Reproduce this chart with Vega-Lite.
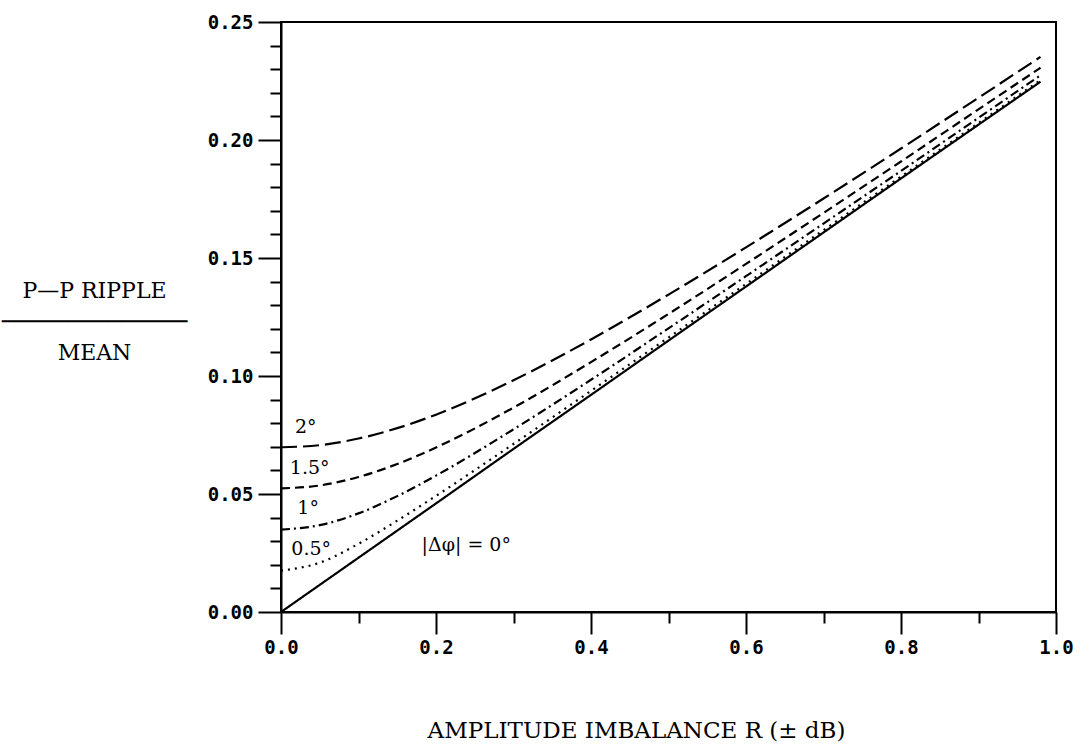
{
  "$schema": "https://vega.github.io/schema/vega-lite/v6.json",
  "width": 775,
  "height": 590,
  "autosize": {"type": "none"},
  "padding": {"left": 281, "top": 22, "right": 27, "bottom": 137},
  "background": "white",
  "config": {
    "view": {"stroke": "black", "strokeWidth": 2},
    "axis": {
      "domainColor": "black", "domainWidth": 2, "tickColor": "black", "tickWidth": 2,
      "labelFont": "DejaVu Sans Mono", "labelFontWeight": "bold", "labelFontSize": 19, "labelColor": "black",
      "grid": false, "titleFont": "DejaVu Serif", "titleFontWeight": "normal", "titleColor": "black"
    }
  },
  "datasets": {
    "curves": [
      {"R": 0, "v": 0, "phase": "0"}, {"R": 0.05, "v": 0.0115, "phase": "0"}, {"R": 0.1, "v": 0.0230, "phase": "0"}, {"R": 0.15, "v": 0.0345, "phase": "0"}, {"R": 0.2, "v": 0.0460, "phase": "0"}, {"R": 0.3, "v": 0.0691, "phase": "0"}, {"R": 0.4, "v": 0.0920, "phase": "0"}, {"R": 0.5, "v": 0.1150, "phase": "0"}, {"R": 0.6, "v": 0.1379, "phase": "0"}, {"R": 0.7, "v": 0.1608, "phase": "0"}, {"R": 0.8, "v": 0.1837, "phase": "0"}, {"R": 0.9, "v": 0.2065, "phase": "0"}, {"R": 0.98, "v": 0.2247, "phase": "0"},
      {"R": 0, "v": 0.0175, "phase": "0.5"}, {"R": 0.05, "v": 0.0209, "phase": "0.5"}, {"R": 0.1, "v": 0.0289, "phase": "0.5"}, {"R": 0.15, "v": 0.0387, "phase": "0.5"}, {"R": 0.2, "v": 0.0492, "phase": "0.5"}, {"R": 0.3, "v": 0.0712, "phase": "0.5"}, {"R": 0.4, "v": 0.0937, "phase": "0.5"}, {"R": 0.5, "v": 0.1163, "phase": "0.5"}, {"R": 0.6, "v": 0.1390, "phase": "0.5"}, {"R": 0.7, "v": 0.1618, "phase": "0.5"}, {"R": 0.8, "v": 0.1845, "phase": "0.5"}, {"R": 0.9, "v": 0.2072, "phase": "0.5"}, {"R": 0.98, "v": 0.2254, "phase": "0.5"},
      {"R": 0, "v": 0.0349, "phase": "1"}, {"R": 0.05, "v": 0.0368, "phase": "1"}, {"R": 0.1, "v": 0.0418, "phase": "1"}, {"R": 0.15, "v": 0.0491, "phase": "1"}, {"R": 0.2, "v": 0.0578, "phase": "1"}, {"R": 0.3, "v": 0.0774, "phase": "1"}, {"R": 0.4, "v": 0.0984, "phase": "1"}, {"R": 0.5, "v": 0.1202, "phase": "1"}, {"R": 0.6, "v": 0.1423, "phase": "1"}, {"R": 0.7, "v": 0.1646, "phase": "1"}, {"R": 0.8, "v": 0.1869, "phase": "1"}, {"R": 0.9, "v": 0.2094, "phase": "1"}, {"R": 0.98, "v": 0.2274, "phase": "1"},
      {"R": 0, "v": 0.0524, "phase": "1.5"}, {"R": 0.05, "v": 0.0536, "phase": "1.5"}, {"R": 0.1, "v": 0.0572, "phase": "1.5"}, {"R": 0.15, "v": 0.0627, "phase": "1.5"}, {"R": 0.2, "v": 0.0697, "phase": "1.5"}, {"R": 0.3, "v": 0.0866, "phase": "1.5"}, {"R": 0.4, "v": 0.1059, "phase": "1.5"}, {"R": 0.5, "v": 0.1263, "phase": "1.5"}, {"R": 0.6, "v": 0.1475, "phase": "1.5"}, {"R": 0.7, "v": 0.1691, "phase": "1.5"}, {"R": 0.8, "v": 0.1909, "phase": "1.5"}, {"R": 0.9, "v": 0.2130, "phase": "1.5"}, {"R": 0.98, "v": 0.2306, "phase": "1.5"},
      {"R": 0, "v": 0.0698, "phase": "2"}, {"R": 0.05, "v": 0.0707, "phase": "2"}, {"R": 0.1, "v": 0.0735, "phase": "2"}, {"R": 0.15, "v": 0.0779, "phase": "2"}, {"R": 0.2, "v": 0.0836, "phase": "2"}, {"R": 0.3, "v": 0.0982, "phase": "2"}, {"R": 0.4, "v": 0.1155, "phase": "2"}, {"R": 0.5, "v": 0.1345, "phase": "2"}, {"R": 0.6, "v": 0.1545, "phase": "2"}, {"R": 0.7, "v": 0.1752, "phase": "2"}, {"R": 0.8, "v": 0.1964, "phase": "2"}, {"R": 0.9, "v": 0.2179, "phase": "2"}, {"R": 0.98, "v": 0.2352, "phase": "2"}
    ],
    "labels": [
      {"R": 0.032, "v": 0.0784, "label": "2°"},
      {"R": 0.037, "v": 0.0610, "label": "1.5°"},
      {"R": 0.035, "v": 0.0440, "label": "1°"},
      {"R": 0.039, "v": 0.0267, "label": "0.5°"},
      {"R": 0.239, "v": 0.0284, "label": "|Δφ| = 0°"}
    ]
  },
  "layer": [
    {
      "data": {"name": "curves"},
      "mark": {"type": "line", "color": "black", "strokeWidth": 2.2, "interpolate": "monotone"},
      "encoding": {
        "x": {
          "field": "R", "type": "quantitative",
          "scale": {"domain": [0, 1], "nice": false, "zero": false},
          "axis": {
            "values": [0, 0.1, 0.2, 0.3, 0.4, 0.5, 0.6, 0.7, 0.8, 0.9, 1.0],
            "tickCount": 30,
            "tickSize": {"condition": {"test": "round(datum.value*10) % 2 == 0", "value": 22}, "value": 11},
            "labelExpr": "round(datum.value*10) % 2 == 0 ? format(datum.value, '.1f') : ''",
            "labelPadding": 4,
            "labelFlush": false,
            "labelOverlap": false,
            "title": "AMPLITUDE  IMBALANCE  R (± dB)",
            "titleFontSize": 23,
            "titleX": 355,
            "titleY": 125,
            "titleAnchor": null,
            "titleAlign": "center",
            "titleBaseline": "alphabetic"
          }
        },
        "y": {
          "field": "v", "type": "quantitative",
          "scale": {"domain": [0, 0.25], "nice": false, "zero": false},
          "axis": {
            "values": [0, 0.01, 0.02, 0.03, 0.04, 0.05, 0.06, 0.07, 0.08, 0.09, 0.1, 0.11, 0.12, 0.13, 0.14, 0.15, 0.16, 0.17, 0.18, 0.19, 0.2, 0.21, 0.22, 0.23, 0.24, 0.25],
            "tickCount": 40,
            "tickSize": {"condition": {"test": "round(datum.value*100) % 5 == 0", "value": 23}, "value": 11},
            "labelExpr": "round(datum.value*100) % 5 == 0 ? format(datum.value, '.2f') : ''",
            "labelPadding": 5,
            "labelFlush": false,
            "labelOverlap": false,
            "title": ["P—P RIPPLE", "──────────────", "MEAN"],
            "titleFontSize": 22,
            "titleLineHeight": 31,
            "titleAngle": 0,
            "titleX": -187,
            "titleY": 268,
            "titleAlign": "center",
            "titleBaseline": "middle"
          }
        },
        "strokeDash": {
          "field": "phase", "type": "nominal",
          "scale": {"domain": ["0", "0.5", "1", "1.5", "2"], "range": [[1, 0], [2, 5], [9, 4, 2, 4], [9, 5], [16, 6]]},
          "legend": null
        }
      }
    },
    {
      "data": {"name": "labels"},
      "mark": {"type": "text", "font": "DejaVu Serif", "fontSize": 19, "color": "black", "align": "center", "baseline": "middle"},
      "encoding": {
        "x": {"field": "R", "type": "quantitative"},
        "y": {"field": "v", "type": "quantitative"},
        "text": {"field": "label"}
      }
    }
  ]
}
